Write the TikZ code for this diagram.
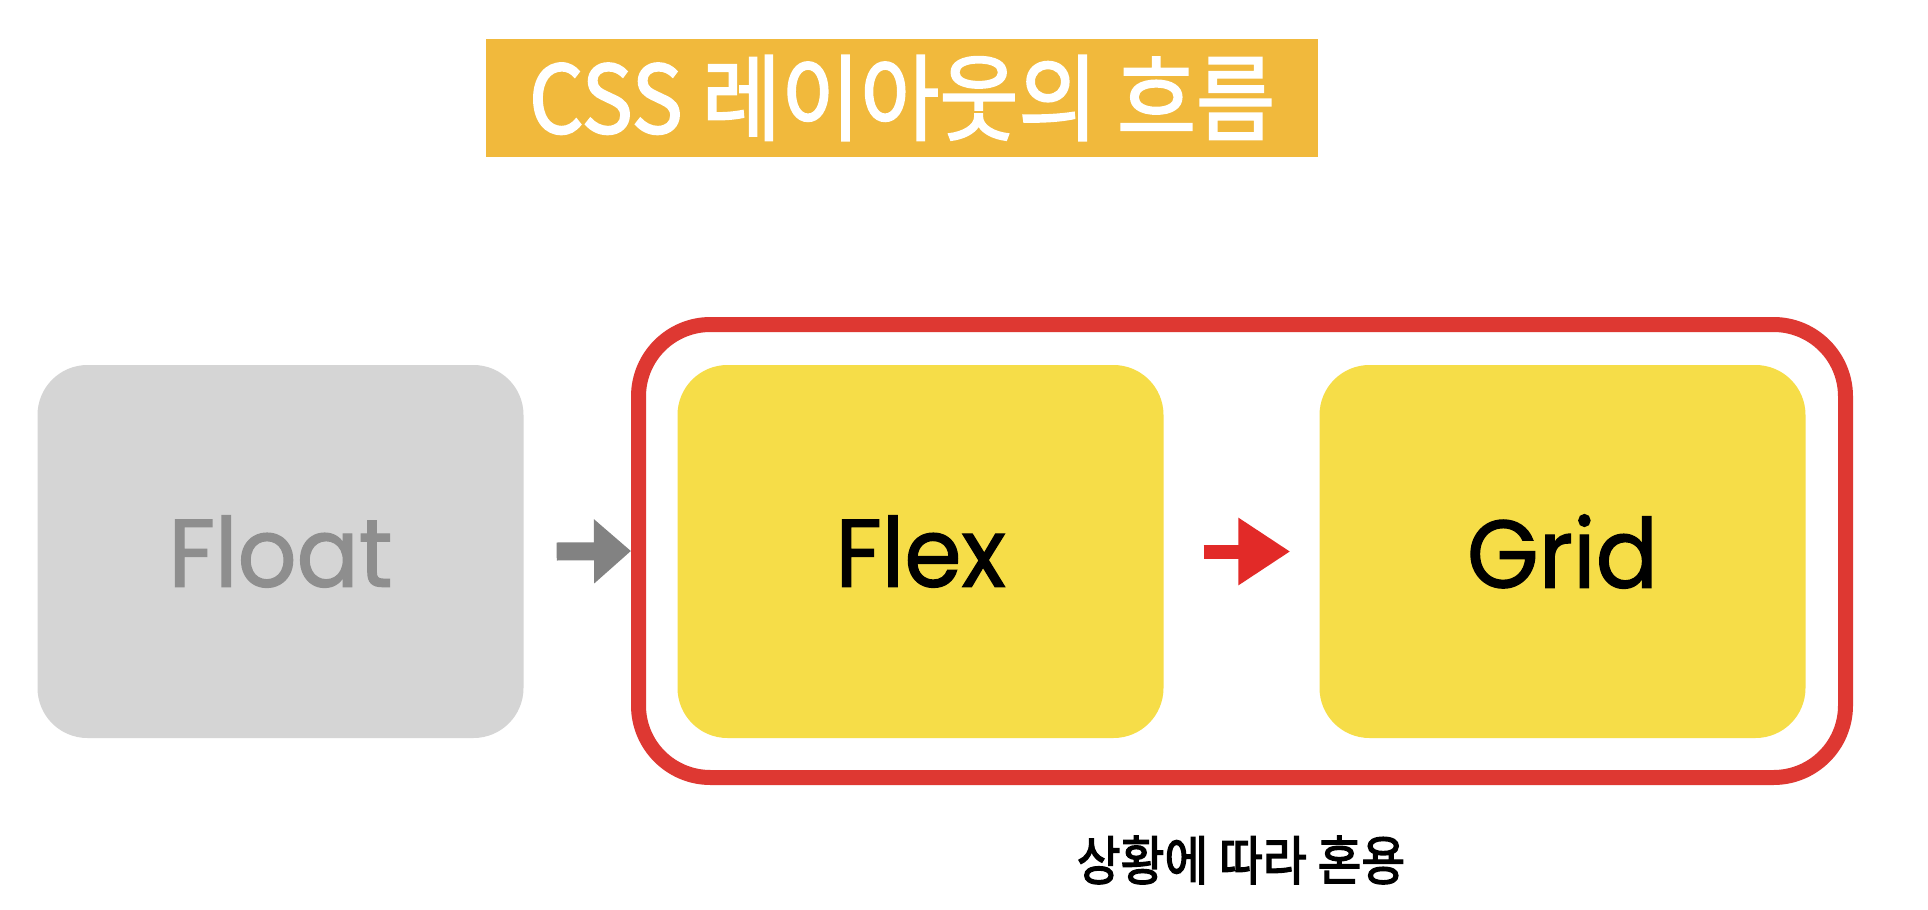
\documentclass[tikz,border=0pt]{standalone}
\usepackage{fontspec}
\setmainfont{Poppins}
\newfontfamily\cardfont{Poppins}[FakeBold=1.4]
\newfontfamily\krfont{Noto Sans CJK KR}[FakeBold=2.6]
\newfontfamily\krmed{Noto Sans CJK KR}[FakeBold=2]
\usetikzlibrary{arrows.meta}
\definecolor{titlebg}{RGB}{241,185,60}
\definecolor{flexbg}{RGB}{246,221,72}
\definecolor{floatbg}{RGB}{213,213,213}
\definecolor{floattxt}{RGB}{142,142,142}
\definecolor{grayarrow}{RGB}{130,130,130}
\definecolor{redline}{RGB}{222,56,50}
\definecolor{redarrow}{RGB}{226,42,40}
\tikzset{
  card/.style={rectangle, rounded corners=50pt, inner sep=0pt,
    minimum width=486pt, minimum height=373pt,
    font=\cardfont\fontsize{96}{110}\selectfont},
  bigarrow/.style={line width=#1, line cap=butt},
}
\begin{document}
\begin{tikzpicture}[x=1pt,y=-1pt]
\useasboundingbox (0,0) rectangle (1928,910);
\fill[white] (0,0) rectangle (1928,910);
% title
\node (title) [rectangle, fill=titlebg, inner sep=0pt, minimum width=832pt, minimum height=118pt,
  text=white, font=\krmed\fontsize{94}{100}\selectfont] at (902,98)
  {\scalebox{0.915}[1]{CSS 레이아웃의 흐름}};
% boxes
\node (float) [card, fill=floatbg, text=floattxt] at (280.5,551.5) {\scalebox{0.96}[1]{Float}};
\node (flex) [card, fill=flexbg, text=black] at (920.5,551.5) {\scalebox{0.96}[1]{Flex}};
\node (grid) [card, fill=flexbg, text=black] at (1562.5,551.5) {\scalebox{0.96}[1]{Grid}};
\node (group) [rectangle, draw=redline, line width=15pt, rounded corners=72pt,
  inner sep=0pt, minimum width=1207pt, minimum height=453pt] at (1242,551) {};
% arrows
\draw[bigarrow=18pt, grayarrow, -{Triangle[length=37pt,width=62pt]}]
  ([xshift=33pt]float.east) -- (group.west);
\draw[bigarrow=14pt, redarrow, -{Triangle[length=52pt,width=64pt]}]
  ([xshift=40pt]flex.east) -- ([xshift=-29pt]grid.west);
% note
\node (note) [font=\krfont\fontsize{53}{60}\selectfont, text=black] at (1241,860)
  {\scalebox{0.9}[1]{상황에 따라 혼용}};
\end{tikzpicture}
\end{document}
